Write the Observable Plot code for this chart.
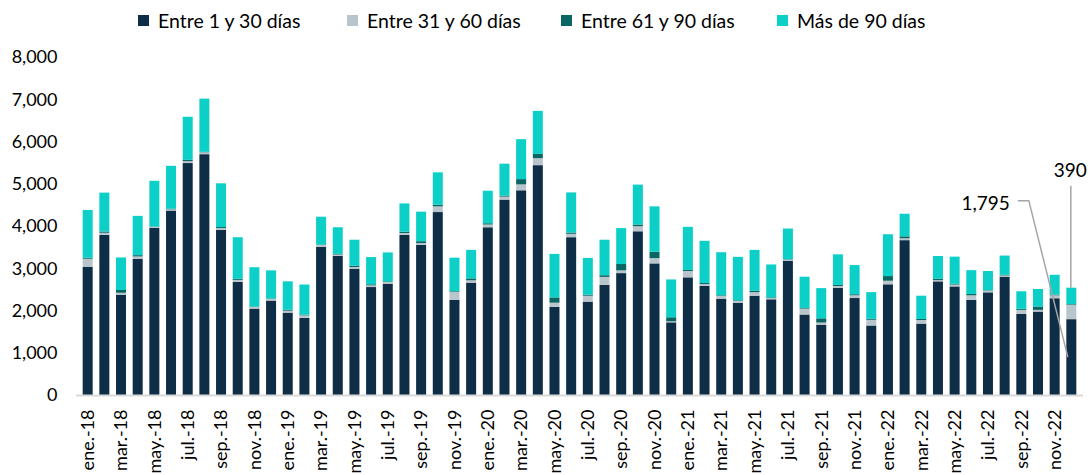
<!DOCTYPE html>
<html>
<head>
<meta charset="utf-8">
<script src="https://cdn.jsdelivr.net/npm/d3@7"></script>
<script src="https://cdn.jsdelivr.net/npm/@observablehq/plot@0.6"></script>
<style>
  html, body { margin: 0; padding: 0; background: #fff; }
  body { width: 1090px; font-family: Lato, "Open Sans", sans-serif; }
  #legend { position: relative; height: 40px; font-size: 19.5px; color: #000; }
  .item { position: absolute; top: 0; height: 40px; display: flex; align-items: center; white-space: nowrap; }
  .sw { width: 11px; height: 11px; margin-right: 9px; display: inline-block; }
  svg { display: block; }
</style>
</head>
<body>
<div id="legend"></div>
<div id="chart"></div>
<script>
const months = [
  "ene.-18","feb.-18","mar.-18","abr.-18","may.-18","jun.-18","jul.-18","ago.-18","sep.-18","oct.-18","nov.-18","dic.-18",
  "ene.-19","feb.-19","mar.-19","abr.-19","may.-19","jun.-19","jul.-19","ago.-19","sep.-19","oct.-19","nov.-19","dic.-19",
  "ene.-20","feb.-20","mar.-20","abr.-20","may.-20","jun.-20","jul.-20","ago.-20","sep.-20","oct.-20","nov.-20","dic.-20",
  "ene.-21","feb.-21","mar.-21","abr.-21","may.-21","jun.-21","jul.-21","ago.-21","sep.-21","oct.-21","nov.-21","dic.-21",
  "ene.-22","feb.-22","mar.-22","abr.-22","may.-22","jun.-22","jul.-22","ago.-22","sep.-22","oct.-22","nov.-22","dic.-22"
];
const series = ["Entre 1 y 30 días", "Entre 31 y 60 días", "Entre 61 y 90 días", "Más de 90 días"];
const colors = ["#0e2e48", "#b9c5cc", "#0a6662", "#0ccfc8"];

const entre1a30 = [
  3030,3790,2375,3225,3955,4365,5490,5700,3910,2680,2045,2235,
  1950,1825,3505,3295,2990,2555,2635,3790,3555,4330,2250,2660,
  3970,4625,4845,5440,2085,3735,2210,2605,2885,3875,3115,1720,
  2785,2585,2280,2185,2350,2265,3175,1905,1665,2540,2295,1645,
  2620,3665,1690,2690,2570,2250,2430,2800,1920,1975,2290,1795
];
const entre31a60 = [
  195,50,45,55,25,30,45,45,40,45,40,40,
  45,60,45,30,40,40,40,45,40,135,195,55,
  65,70,140,165,100,80,140,190,65,120,125,25,
  150,40,65,40,85,30,30,140,50,40,65,135,
  85,45,85,30,45,110,40,30,95,40,70,340
];
const entre61a90 = [
  25,30,65,30,10,15,30,10,25,25,10,10,
  25,15,10,15,30,25,15,30,45,40,15,45,
  30,25,125,100,125,30,25,40,150,40,150,95,
  25,25,15,15,30,15,10,15,100,25,25,25,
  110,45,25,30,15,30,10,15,25,80,15,15
];
const masDe90 = [
  1130,920,770,930,1080,1015,1020,1260,1035,985,930,665,
  670,715,660,630,615,645,685,670,700,765,790,675,
  770,755,945,1020,1030,950,870,840,850,945,1075,895,
  1020,1000,1020,1030,970,780,725,740,715,725,690,630,
  990,535,550,540,645,565,455,455,415,415,470,390
];
const yTicks = [0,1000,2000,3000,4000,5000,6000,7000,8000];
const xTicks = months.filter((d, i) => i % 2 === 0);

const seriesValues = [entre1a30, entre31a60, entre61a90, masDe90];
const rows = [];
months.forEach((m, i) => {
  series.forEach((s, k) => rows.push({month: m, serie: s, value: seriesValues[k][i]}));
});

// Legend (HTML, above the SVG)
const legendLeft = [138, 347, 561, 777];
const legend = document.getElementById("legend");
series.forEach((s, k) => {
  const it = document.createElement("div");
  it.className = "item";
  it.style.left = legendLeft[k] + "px";
  it.innerHTML = `<span class="sw" style="background:${colors[k]}"></span><span>${s}</span>`;
  legend.appendChild(it);
});

const last = months.length - 1;
const fmt = d3.format(",");

function annotations(index, scales) {
  const x = scales.x, y = scales.y;
  const bw = typeof x.bandwidth === "function" ? x.bandwidth() : (x.bandwidth || 0);
  const cx = x(months[last]) + bw / 2;
  const total = entre1a30[last] + entre31a60[last] + entre61a90[last] + masDe90[last];
  const top = y(total);
  const mid = y(entre1a30[last] / 2);
  const g = d3.create("svg:g");
  // 390 label
  g.append("line")
    .attr("x1", cx - 0.5).attr("x2", cx - 0.5)
    .attr("y1", top).attr("y2", top - 102)
    .attr("stroke", "#a6a6a6").attr("stroke-width", 1.5);
  g.append("text")
    .attr("x", cx - 1).attr("y", top - 118)
    .attr("text-anchor", "middle").attr("dominant-baseline", "central")
    .attr("font-size", 19).attr("fill", "#000")
    .text(fmt(masDe90[last]));
  // 1,795 label
  const cornerX = cx - 42.5, cornerY = top - 87;
  g.append("polyline")
    .attr("points", `${cornerX - 11},${cornerY} ${cornerX},${cornerY} ${cx - 3.5},${mid}`)
    .attr("fill", "none").attr("stroke", "#a6a6a6").attr("stroke-width", 1.5);
  g.append("text")
    .attr("x", cornerX - 19).attr("y", cornerY + 2)
    .attr("text-anchor", "end").attr("dominant-baseline", "central")
    .attr("font-size", 19).attr("fill", "#000")
    .text(fmt(entre1a30[last]));
  return g.node();
}

const chart = Plot.plot({
  width: 1090,
  height: 435,
  marginLeft: 76,
  marginRight: 7,
  marginTop: 17,
  marginBottom: 80,
  style: {fontFamily: "Lato, 'Open Sans', sans-serif", fontSize: "18px", color: "#000", background: "#fff", overflow: "visible"},
  x: {domain: months, padding: 0.4, axis: null, label: null},
  y: {domain: [0, 8000], axis: null, label: null},
  color: {domain: series, range: colors},
  marks: [
    Plot.barY(rows, {x: "month", y: "value", fill: "serie", order: series}),
    Plot.ruleY([0], {stroke: "#d9d9d9", strokeWidth: 2}),
    Plot.axisY({ticks: yTicks, tickSize: 0, tickPadding: 19, tickFormat: d3.format(","), fontSize: 18, fill: "#000", label: null}),
    Plot.axisX({ticks: xTicks, tickRotate: -90, tickSize: 0, tickPadding: 14, fontSize: 18, fill: "#000", label: null}),
    annotations
  ]
});
document.getElementById("chart").appendChild(chart);
</script>
</body>
</html>
